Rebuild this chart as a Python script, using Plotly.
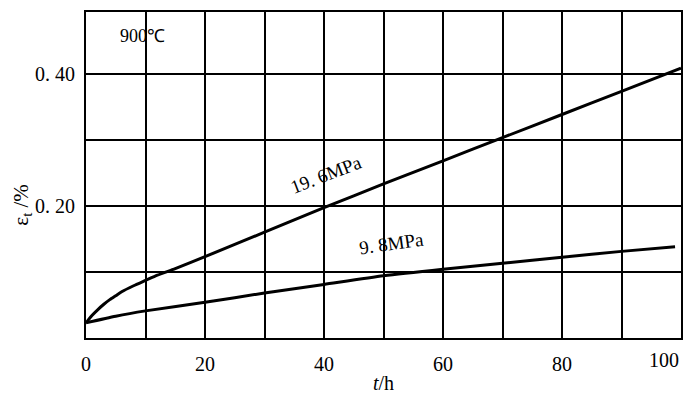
import plotly.graph_objects as go

# Data
t_196 = [0, 1, 2, 3, 4, 5, 6, 8, 10, 12, 15, 20, 30, 40, 50, 60, 70, 80, 90, 100]
e_196 = [0.023, 0.034, 0.043, 0.051, 0.058, 0.064, 0.070, 0.079, 0.087, 0.095,
         0.105, 0.123, 0.160, 0.197, 0.233, 0.268, 0.303, 0.338, 0.373, 0.408]

t_98 = [0, 5, 10, 20, 30, 40, 50, 60, 70, 80, 90, 99]
e_98 = [0.023, 0.033, 0.041, 0.054, 0.068, 0.081, 0.094, 0.104, 0.113, 0.122, 0.131, 0.138]

x_ticks = [0, 20, 40, 60, 80]
x_ticktext = ["0", "20", "40", "60", "80"]
x_minor = [10, 30, 50, 70, 90, 100]
x_last_label = "100"
y_ticks = [0.2, 0.4]
y_ticktext = ["0. 20", "0. 40"]
y_minor = [0.1, 0.3]

serif = "Liberation Serif"

fig = go.Figure()
fig.add_trace(go.Scatter(x=t_196, y=e_196, mode="lines",
                         line=dict(color="black", width=3, shape="spline", smoothing=0.6),
                         showlegend=False, hoverinfo="skip"))
fig.add_trace(go.Scatter(x=t_98, y=e_98, mode="lines",
                         line=dict(color="black", width=3, shape="spline", smoothing=0.6),
                         showlegend=False, hoverinfo="skip"))

fig.add_annotation(x=40.4, y=0.247, text="19. 6MPa", showarrow=False, textangle=-21,
                   font=dict(family=serif, size=19, color="black"))
fig.add_annotation(x=51.3, y=0.143, text="9. 8MPa", showarrow=False, textangle=-8,
                   font=dict(family=serif, size=19, color="black"))
fig.add_annotation(x=9.5, y=0.456, text="900℃", showarrow=False,
                   font=dict(family=serif, size=18, color="black"))
fig.add_annotation(x=100, xref="x", y=0, yref="paper", text=x_last_label,
                   showarrow=False, xanchor="right", yanchor="top", yshift=-9,
                   font=dict(family=serif, size=20, color="black"))
# y-axis title
fig.add_annotation(x=-0.107, xref="paper", y=0.41, yref="paper",
                   xanchor="center", yanchor="middle",
                   text="ε<sub>t</sub> /%", showarrow=False, textangle=-90,
                   font=dict(family=serif, size=21, color="black"))

fig.update_layout(
    width=693, height=402,
    margin=dict(l=86, r=10, t=10, b=64),
    paper_bgcolor="white", plot_bgcolor="white",
    font=dict(family=serif, size=20, color="black"),
)
grid = dict(showgrid=True, gridcolor="black", gridwidth=1.5)
fig.update_xaxes(range=[0, 100], tickvals=x_ticks, ticktext=x_ticktext,
                 minor=dict(tickvals=x_minor, ticks="", **grid), **grid,
                 showline=True, linecolor="black", linewidth=2, mirror=True,
                 zeroline=False, ticks="", ticklen=0, ticklabelstandoff=7,
                 tickfont=dict(family=serif, size=20),
                 title=dict(text="<i>t</i>/h", font=dict(family=serif, size=20), standoff=2))
fig.update_yaxes(range=[0, 0.493], tickvals=y_ticks, ticktext=y_ticktext,
                 minor=dict(tickvals=y_minor, ticks="", **grid), **grid,
                 showline=True, linecolor="black", linewidth=2, mirror=True,
                 zeroline=False, ticks="", ticklen=0, ticklabelstandoff=5,
                 tickfont=dict(family=serif, size=20))

fig.write_html("out.html", config={"displayModeBar": False},
               post_script="document.body.style.margin='0px';document.body.style.overflow='hidden';")
